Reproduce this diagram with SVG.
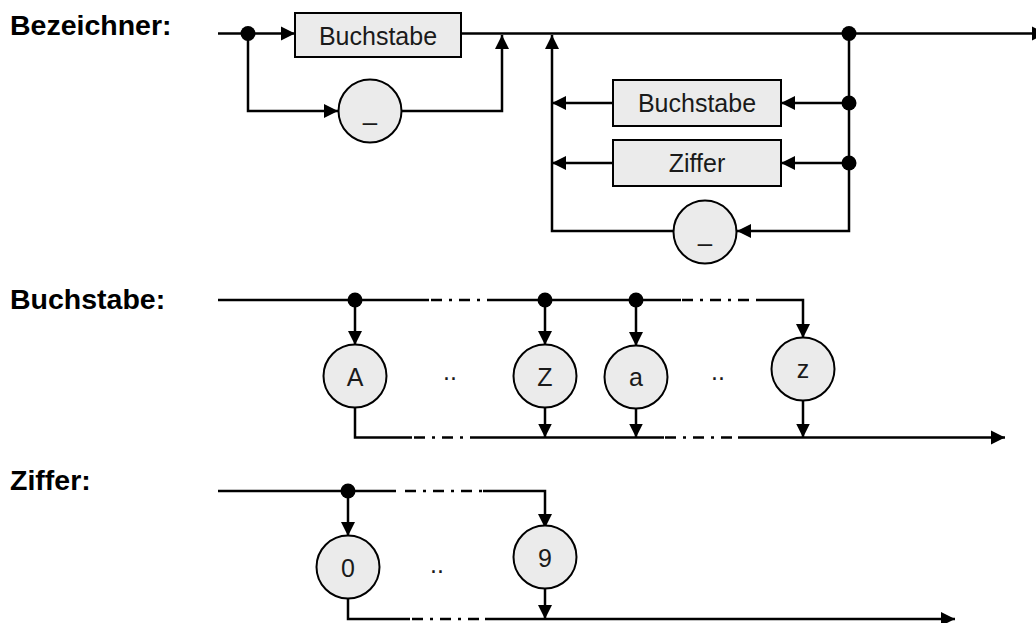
<svg xmlns="http://www.w3.org/2000/svg" width="1036" height="623" viewBox="0 0 1036 623">
  <style>
    .bg { fill: #ffffff; }
    .title { font-family: "Liberation Sans", Arial, sans-serif; font-weight: bold; font-size: 28.5px; fill: #000; }
    .lbl { font-family: "Liberation Sans", Arial, sans-serif; font-size: 25px; fill: #1a1a1a; text-anchor: middle; }
    .box { fill: #ebebeb; stroke: #000; stroke-width: 2; }
    .term { fill: #ebebeb; stroke: #000; stroke-width: 2; }
    .ln { fill: none; stroke: #000; stroke-width: 2.5; }
    .dash { fill: none; stroke: #000; stroke-width: 2.5; stroke-dasharray: 11 7 3 7; }
    .arr { marker-end: url(#arrow); }
    .dot { fill: #000; }
  </style>
  <defs>
    <marker id="arrow" markerUnits="userSpaceOnUse" markerWidth="16" markerHeight="16" refX="14" refY="8" orient="auto">
      <path d="M0,1 L14,8 L0,15 z" fill="#000"/>
    </marker>
  </defs>
  <rect class="bg" x="0" y="0" width="1036" height="623"/>

  <!-- rule names -->
  <text class="title" x="10" y="35">Bezeichner:</text>
  <text class="title" x="10" y="309">Buchstabe:</text>
  <text class="title" x="10" y="490">Ziffer:</text>

  <!-- connectors -->
  <g id="connectors">
    <!-- Bezeichner: first character -->
    <path class="ln arr" d="M218,33.5 H295"/>
    <path class="ln arr" d="M461,33.5 H1046"/>
    <path class="ln arr" d="M248,33.5 V111 H338"/>
    <path class="ln arr" d="M402,111 H502 V35"/>
    <!-- Bezeichner: repetition loop -->
    <path class="ln arr" d="M849,33.5 V231 H737"/>
    <path class="ln arr" d="M849,103 H781"/>
    <path class="ln arr" d="M849,163 H781"/>
    <path class="ln arr" d="M613,103 H552"/>
    <path class="ln arr" d="M613,163 H552"/>
    <path class="ln arr" d="M674,231 H552 V35"/>

    <!-- Buchstabe: top rail -->
    <path class="ln" d="M218,300 H429"/>
    <path class="dash" d="M431,300 H490"/>
    <path class="ln" d="M490,300 H681"/>
    <path class="dash" d="M682,300 H757"/>
    <path class="ln arr" d="M757,300 H803 V338"/>
    <path class="ln arr" d="M355,300 V345"/>
    <path class="ln arr" d="M545,300 V345"/>
    <path class="ln arr" d="M636,300 V346"/>
    <!-- Buchstabe: bottom rail -->
    <path class="ln" d="M355,407 V437.5 H412"/>
    <path class="dash" d="M414,437.5 H472"/>
    <path class="ln" d="M472,437.5 H664"/>
    <path class="dash" d="M665,437.5 H738"/>
    <path class="ln arr" d="M738,437.5 H1005"/>
    <path class="ln arr" d="M545,407 V437.5"/>
    <path class="ln arr" d="M636,408 V437.5"/>
    <path class="ln arr" d="M803,400 V437.5"/>

    <!-- Ziffer -->
    <path class="ln" d="M218,491 H396"/>
    <path class="dash" d="M405,491 H483"/>
    <path class="ln arr" d="M483,491 H545 V528"/>
    <path class="ln arr" d="M348,491 V536"/>
    <path class="ln" d="M348,598 V619 H410"/>
    <path class="dash" d="M412,619 H485"/>
    <path class="ln arr" d="M485,619 H955"/>
    <path class="ln arr" d="M545,588 V619"/>

    <!-- junction dots -->
    <circle class="dot" cx="248" cy="33.5" r="7.5"/>
    <circle class="dot" cx="849" cy="33.5" r="7.5"/>
    <circle class="dot" cx="849" cy="103" r="7.5"/>
    <circle class="dot" cx="849" cy="163" r="7.5"/>
    <circle class="dot" cx="355" cy="300" r="7.5"/>
    <circle class="dot" cx="545" cy="300" r="7.5"/>
    <circle class="dot" cx="636" cy="300" r="7.5"/>
    <circle class="dot" cx="348" cy="491" r="7.5"/>
  </g>

  <!-- Bezeichner nodes -->
  <g id="bez-buchstabe">
    <rect class="box" x="295" y="13" width="166" height="44"/>
    <text class="lbl" x="378" y="45">Buchstabe</text>
  </g>
  <g id="bez-underscore1">
    <circle class="term" cx="370" cy="111" r="31.5"/>
    <text class="lbl" x="370" y="120">_</text>
  </g>
  <g id="bez-buchstabe2">
    <rect class="box" x="613" y="80" width="168" height="46"/>
    <text class="lbl" x="697" y="112">Buchstabe</text>
  </g>
  <g id="bez-ziffer">
    <rect class="box" x="613" y="140" width="168" height="46"/>
    <text class="lbl" x="697" y="172">Ziffer</text>
  </g>
  <g id="bez-underscore2">
    <circle class="term" cx="705" cy="232" r="31.5"/>
    <text class="lbl" x="705" y="241">_</text>
  </g>

  <!-- Buchstabe nodes -->
  <g id="chr-A">
    <circle class="term" cx="355" cy="376" r="31.5"/>
    <text class="lbl" x="355" y="386">A</text>
  </g>
  <g id="chr-Z">
    <circle class="term" cx="545" cy="376" r="31.5"/>
    <text class="lbl" x="545" y="386">Z</text>
  </g>
  <g id="chr-a">
    <circle class="term" cx="636" cy="377" r="31.5"/>
    <text class="lbl" x="636" y="386">a</text>
  </g>
  <g id="chr-z">
    <circle class="term" cx="803" cy="369" r="31.5"/>
    <text class="lbl" x="803" y="378">z</text>
  </g>
  <text class="lbl" x="450" y="380">..</text>
  <text class="lbl" x="718" y="380">..</text>

  <!-- Ziffer nodes -->
  <g id="dig-0">
    <circle class="term" cx="348" cy="567" r="31.5"/>
    <text class="lbl" x="348" y="577">0</text>
  </g>
  <g id="dig-9">
    <circle class="term" cx="545" cy="557" r="31.5"/>
    <text class="lbl" x="545" y="567">9</text>
  </g>
  <text class="lbl" x="437" y="573">..</text>
</svg>
